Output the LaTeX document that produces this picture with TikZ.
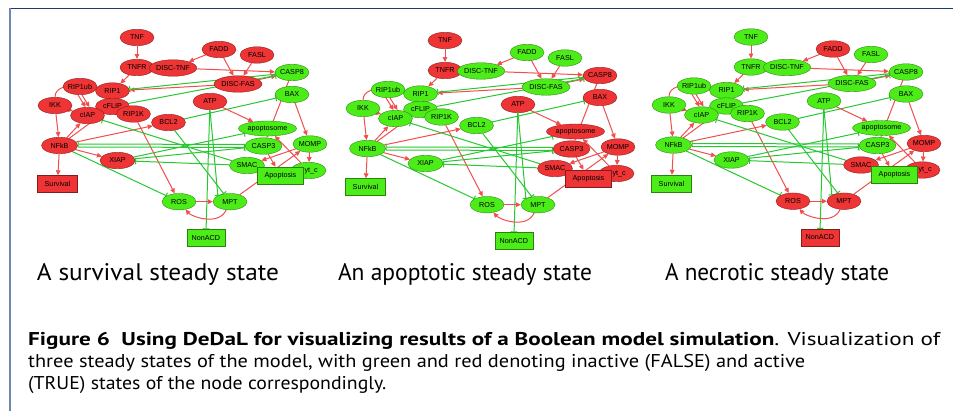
\documentclass[tikz,border=0pt]{standalone}
\usepackage{fontspec}
\usepackage{graphicx}
\setmainfont{Liberation Sans}
\newfontfamily\capfont{PT Sans}
\usetikzlibrary{arrows.meta,shapes.geometric,backgrounds}
\pgfdeclarelayer{bgzero}
\pgfsetlayers{bgzero,background,main}
\definecolor{nred}{RGB}{238,52,52}
\definecolor{ngreen}{RGB}{76,236,24}
\definecolor{ered}{RGB}{242,78,78}
\definecolor{egreen}{RGB}{40,200,50}
\definecolor{frametop}{RGB}{25,60,110}
\definecolor{frameleft}{RGB}{110,135,175}
\newcommand\st[2]{\colorlet{c#1}{n#2}}
\tikzset{
  ell/.style={ellipse, draw=#1!55!black, fill=#1, line width=0.35pt,
    minimum width=34pt, minimum height=16.5pt, inner sep=0pt,
    font=\fontsize{7.2}{8}\selectfont},
  wideell/.style={minimum width=46pt},
  boxnode/.style={rectangle, draw=#1!55!black, fill=#1, line width=0.35pt,
    minimum height=17pt, inner sep=0pt, font=\fontsize{7.2}{8}\selectfont},
  act/.style={draw=ered, line width=1pt, -{Triangle[length=5pt,width=4.6pt]}},
  inh/.style={draw=egreen, line width=1pt, -{Bar[width=6.5pt,line width=1pt]}},
  subtitle/.style={anchor=base, inner sep=0pt, font=\capfont\fontsize{24}{26}\selectfont},
  capline/.style={anchor=base west, inner sep=0pt, font=\capfont\fontsize{18.5}{21}\selectfont},
}
\newcommand\network{%
  \node[ell=cTNF] (TNF) at (137,37.5) {TNF};
  \node[ell=cTNFR] (TNFR) at (137,67.5) {TNFR};
  \node[ell=cDISCTNF, wideell] (DISCTNF) at (173,68) {DISC-TNF};
  \node[ell=cFADD] (FADD) at (219,49.5) {FADD};
  \node[ell=cFASL] (FASL) at (257,55) {FASL};
  \node[ell=cCASP8] (CASP8) at (292,72.5) {CASP8};
  \node[ell=cDISCFAS, minimum width=48pt] (DISCFAS) at (238,84) {DISC-FAS};
  \node[ell=cRIPub, minimum width=32pt] (RIP1ub) at (80,86.5) {RIP1ub};
  \node[ell=cRIP] (RIP1) at (112.5,91) {RIP1};
  \node[ell=cBAX] (BAX) at (292,94.5) {BAX};
  \node[ell=cIKK] (IKK) at (55,105.5) {IKK};
  \node[ell=ccFLIP] (cFLIP) at (112.5,106.5) {cFLIP};
  \node[ell=ccIAP] (cIAP) at (87.5,115.5) {cIAP};
  \node[ell=cRIPK] (RIP1K) at (133.5,114) {RIP1K};
  \node[ell=cATP] (ATP) at (210,101.5) {ATP};
  \node[ell=cBCL] (BCL2) at (168.5,122.5) {BCL2};
  \node[ell=capoptosome, minimum width=58pt, minimum height=15pt] (apoptosome) at (267.5,128.5) {apoptosome};
  \node[ell=cNFkB, minimum width=36pt] (NFkB) at (59.5,145.5) {NFkB};
  \node[ell=cCASP3, minimum width=37pt] (CASP3) at (263.5,146) {CASP3};
  \node[ell=cMOMP] (MOMP) at (310,144) {MOMP};
  \node[ell=cXIAP, minimum width=35pt] (XIAP) at (117.5,160.5) {XIAP};
  \node[ell=cSMAC, minimum width=35pt] (SMAC) at (247,165.5) {SMAC};
  \node[ell=cCytc, minimum width=35pt] (Cytc) at (308.5,170.5) {Cyt\_c};
  \node[boxnode=cApoptosis, minimum width=46pt] (Apoptosis) at (280.5,175.5) {Apoptosis};
  \node[boxnode=cSurvival, minimum width=40pt] (Survival) at (57.5,184) {Survival};
  \node[ell=cROS] (ROS) at (179,201.7) {ROS};
  \node[ell=cMPT] (MPT) at (230,201.7) {MPT};
  \node[boxnode=cNonACD, minimum width=38pt] (NonACD) at (205.8,238) {NonACD};
  \begin{pgfonlayer}{background}
    \draw[act] (TNF) -- (TNFR);
    \draw[act] (TNFR) -- (RIP1);
    \draw[act] (FADD) -- (DISCTNF);
    \draw[act] (FADD) -- (DISCFAS);
    \draw[act] (FASL) -- (DISCFAS);
    \draw[act] (DISCTNF) -- (CASP8);
    \draw[act] (DISCFAS) -- (CASP8);
    \draw[act] (DISCFAS) -- (RIP1);
    \draw[inh] (CASP8) -- (RIP1);
    \draw[inh] (cFLIP) -- (CASP8);
    \draw[act] (CASP8) -- (CASP3);
    \draw[act] (BAX) -- (MOMP);
    \draw[inh] (BCL2) -- (BAX);
    \draw[act] (ATP) -- (apoptosome);
    \draw[inh] (ATP) -- (NonACD);
    \draw[inh] (ATP.south) -- (MPT.north west);
    \draw[inh] (BCL2) -- (MPT);
    \draw[act] (Cytc) -- (apoptosome);
    \draw[act] (MOMP) -- (SMAC);
    \draw[act] (MOMP) -- (Cytc);
    \draw[act] (CASP3) -- (Apoptosis);
    \draw[act] (MPT) -- (MOMP);
    \draw[act] (ROS) -- (MPT);
    \draw[act] (MPT) to[out=-115,in=-50] (ROS);
    \draw[act] (RIP1K) -- (ROS);
    \draw[inh] (NFkB) -- (ROS);
    \draw[act] (NFkB) -- (Survival);
    \draw[act] (NFkB) -- (XIAP);
    \draw[act] (NFkB) -- (BCL2);
    \draw[act] (NFkB) -- (cIAP);
    \draw[act] (NFkB) -- (cFLIP);
    \draw[act] (IKK) -- (NFkB);
    \draw[act] (IKK) to[out=90,in=180] (RIP1ub);
    \draw[act] (IKK) -- (cIAP);
    \draw[act] ([xshift=-2pt]RIP1ub.south) -- ([xshift=-2pt]cIAP.north);
    \draw[act] ([xshift=2pt]RIP1ub.south) -- ([xshift=2pt]cIAP.north);
    \draw[inh] ([yshift=1.5pt]CASP3.west) -- ([yshift=1.5pt]NFkB.east);
    \draw[inh] ([yshift=-1.5pt]NFkB.east) -- ([yshift=-1.5pt]CASP3.west);
    \draw[inh] (XIAP) -- (apoptosome);
    \draw[inh] (XIAP) -- (CASP3);
    \draw[inh] (SMAC) -- (XIAP);
    \draw[inh] (SMAC) -- (cIAP);
  \end{pgfonlayer}%
}
\begin{document}
\begin{tikzpicture}[x=1pt,y=-1pt]
\useasboundingbox (0,0) rectangle (953,411);
\begin{pgfonlayer}{bgzero}
  \fill[white] (0,0) rectangle (953,411);
\end{pgfonlayer}
\draw[frametop, line width=1.2pt] (9,8.3) -- (953,8.3);
\draw[frameleft, line width=1.3pt] (10,8.3) -- (10,411);
% panel 1: survival
\begin{scope}[name prefix=pa-]
  \st{TNF}{red}\st{TNFR}{red}\st{DISCTNF}{red}\st{FADD}{red}\st{FASL}{red}
  \st{CASP8}{green}\st{DISCFAS}{red}\st{RIPub}{red}\st{RIP}{red}\st{BAX}{green}
  \st{IKK}{red}\st{cFLIP}{red}\st{cIAP}{red}\st{RIPK}{red}\st{ATP}{red}
  \st{BCL}{red}\st{apoptosome}{green}\st{NFkB}{red}\st{CASP3}{green}\st{MOMP}{green}
  \st{XIAP}{red}\st{SMAC}{green}\st{Cytc}{green}\st{Apoptosis}{green}\st{Survival}{red}
  \st{ROS}{green}\st{MPT}{green}\st{NonACD}{green}
  \network
\end{scope}
% panel 2: apoptotic
\begin{scope}[name prefix=pb-, shift={(308,3)}]
  \st{TNF}{red}\st{TNFR}{red}\st{DISCTNF}{green}\st{FADD}{green}\st{FASL}{green}
  \st{CASP8}{red}\st{DISCFAS}{green}\st{RIPub}{green}\st{RIP}{green}\st{BAX}{red}
  \st{IKK}{green}\st{cFLIP}{green}\st{cIAP}{green}\st{RIPK}{green}\st{ATP}{red}
  \st{BCL}{green}\st{apoptosome}{red}\st{NFkB}{green}\st{CASP3}{red}\st{MOMP}{red}
  \st{XIAP}{green}\st{SMAC}{red}\st{Cytc}{red}\st{Apoptosis}{red}\st{Survival}{green}
  \st{ROS}{green}\st{MPT}{green}\st{NonACD}{green}
  \network
\end{scope}
% panel 3: necrotic
\begin{scope}[name prefix=pc-, shift={(614,-0.5)}]
  \st{TNF}{green}\st{TNFR}{green}\st{DISCTNF}{green}\st{FADD}{red}\st{FASL}{green}
  \st{CASP8}{green}\st{DISCFAS}{green}\st{RIPub}{green}\st{RIP}{green}\st{BAX}{green}
  \st{IKK}{green}\st{cFLIP}{green}\st{cIAP}{green}\st{RIPK}{green}\st{ATP}{green}
  \st{BCL}{green}\st{apoptosome}{green}\st{NFkB}{green}\st{CASP3}{green}\st{MOMP}{red}
  \st{XIAP}{green}\st{SMAC}{red}\st{Cytc}{red}\st{Apoptosis}{green}\st{Survival}{green}
  \st{ROS}{red}\st{MPT}{red}\st{NonACD}{red}
  \network
\end{scope}
\node[subtitle] (sub1) at (158,281) {\resizebox{242pt}{\height}{A survival steady state}};
\node[subtitle] (sub2) at (465,281) {\resizebox{254pt}{\height}{An apoptotic steady state}};
\node[subtitle] (sub3) at (777,281) {\resizebox{224pt}{\height}{A necrotic steady state}};
\node[capline] (cap1) at (28,346) {\resizebox{912pt}{\height}{\textbf{Figure 6\enspace Using DeDaL for visualizing results of a Boolean model simulation}. Visualization of}};
\node[capline] (cap2) at (28,368) {\resizebox{777pt}{\height}{three steady states of the model, with green and red denoting inactive (FALSE) and active}};
\node[capline] (cap3) at (28,390) {\resizebox{358pt}{\height}{(TRUE) states of the node correspondingly.}};
\end{tikzpicture}
\end{document}
